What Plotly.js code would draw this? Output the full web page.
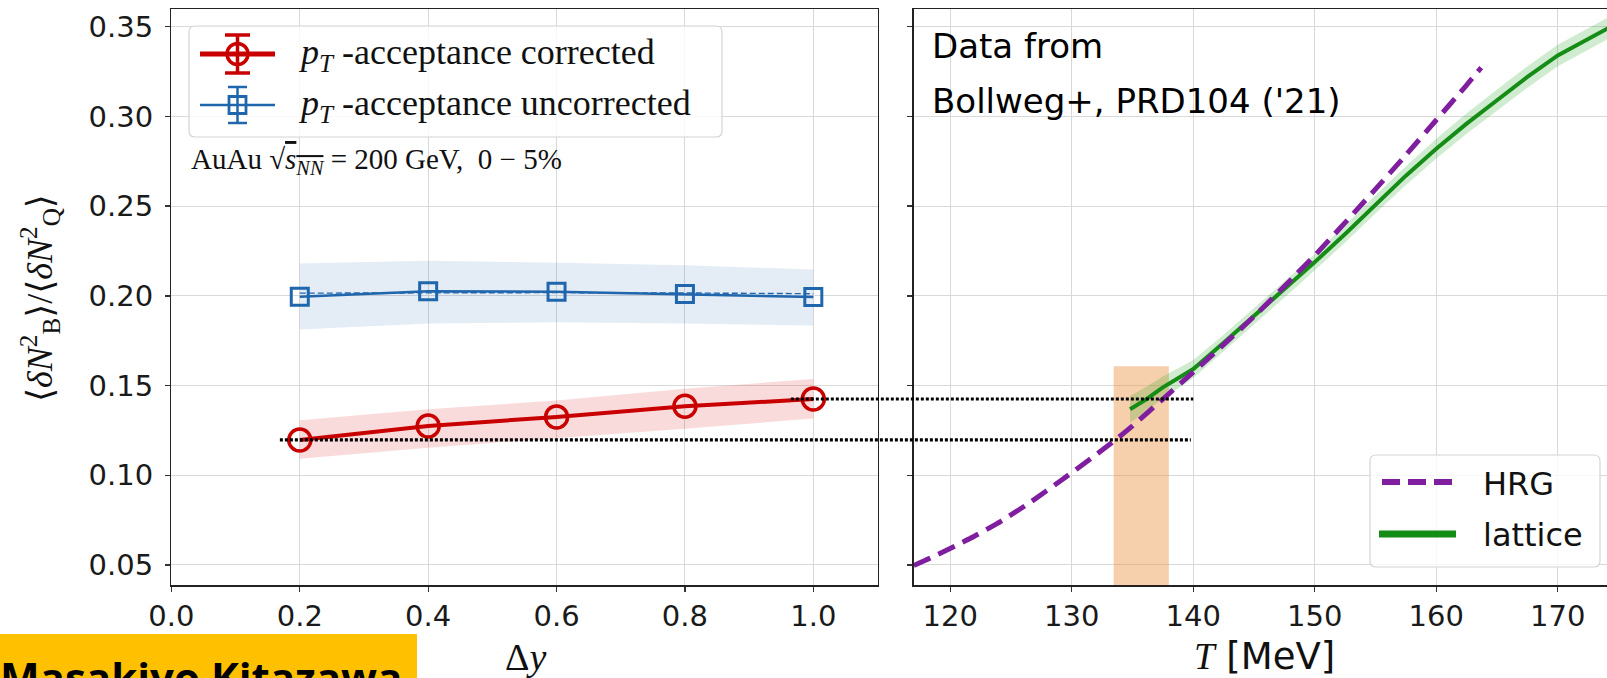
<!DOCTYPE html>
<html><head><meta charset="utf-8">
<script src="https://cdn.plot.ly/plotly-3.0.1.min.js"></script>
<style>html,body{margin:0;padding:0;background:#fff;} #chart{width:1607px;height:678px;}</style>
</head><body><div id="chart"></div>
<script>
// ---------- data ----------
const dyValues = [0.2, 0.4, 0.6, 0.8, 1.0];
const corrected = [0.1197, 0.1275, 0.1325, 0.1385, 0.1425];
const correctedLow = [0.1092, 0.1154, 0.1206, 0.1260, 0.1316];
const correctedHigh = [0.1307, 0.1368, 0.1417, 0.1482, 0.1537];
const uncorrected = [0.1995, 0.2025, 0.2023, 0.2010, 0.1993];
const uncorrectedLow = [0.1813, 0.1846, 0.1853, 0.1846, 0.1835];
const uncorrectedHigh = [0.2180, 0.2195, 0.2185, 0.2170, 0.2147];
const uncorrectedDashed = [0.2015, 0.2018, 0.2018, 0.2016, 0.2012];

const hrgT = [117.0, 118.4, 121.7, 124.2, 126.6, 129.2, 131.7, 133.65, 135.0, 137.5, 140.0, 142.5, 145.0, 148.4, 150.0, 153.8, 155.0, 157.5, 160.0, 162.5, 163.7];
const hrgRatio = [0.0497, 0.0540, 0.0650, 0.0745, 0.0850, 0.0975, 0.1100, 0.1200, 0.1275, 0.1425, 0.1575, 0.1728, 0.1885, 0.2115, 0.2225, 0.2505, 0.2595, 0.2785, 0.2980, 0.3175, 0.3272];

const latT = [134.8, 136.0, 137.5, 139.0, 140.0, 142.5, 145.0, 148.85, 150.0, 152.5, 155.0, 157.5, 160.0, 162.5, 165.0, 167.5, 170.0, 172.0, 174.1];
const latRatio = [0.1368, 0.1418, 0.1490, 0.1550, 0.1592, 0.1738, 0.1886, 0.2116, 0.2188, 0.2345, 0.2510, 0.2670, 0.2820, 0.2960, 0.3090, 0.3220, 0.3340, 0.3415, 0.3490];
const latLow = [0.1293, 0.1348, 0.1430, 0.1495, 0.1542, 0.1693, 0.1841, 0.2071, 0.2143, 0.2297, 0.2460, 0.2618, 0.2765, 0.2903, 0.3030, 0.3160, 0.3280, 0.3355, 0.3430];
const latHigh = [0.1443, 0.1488, 0.1550, 0.1605, 0.1642, 0.1783, 0.1931, 0.2161, 0.2233, 0.2393, 0.2560, 0.2722, 0.2875, 0.3017, 0.3150, 0.3280, 0.3400, 0.3475, 0.3550];

const tcRange = [133.45, 137.99];
const tcBandTop = 0.1607;
const dottedStartDy = [0.169, 0.965];   // left ends of the two dotted guide lines (Δy)
const dottedEndT = [139.8, 140.0];      // right ends (T)

const dyTicks = [0.0, 0.2, 0.4, 0.6, 0.8, 1.0];
const tTicks = [120, 130, 140, 150, 160, 170];
const ratioTicks = [0.05, 0.10, 0.15, 0.20, 0.25, 0.30, 0.35];

// ---------- geometry ----------
const W = 1607, H = 678;
const px = v => v / W;
const py = v => 1 - v / H;
const xDomL = [171.4 / W, 877.5 / W];
const xDomR = [913.8 / W, 1];
const yDom = [93 / H, 1 - 9.3 / H];
const xRangeL = [0, 1.1];
const xRangeR = [117.0, 174.05];
const yRange = [0.03885, 0.3597];
const toPaper = (v, r, d) => d[0] + (v - r[0]) / (r[1] - r[0]) * (d[1] - d[0]);

const RED = '#c80000', BLUE = '#1f66ad', PURPLE = '#7f1f9f', GREEN = '#158c15';
const SERIF = 'Liberation Serif, DejaVu Serif, serif';
const SANS = 'DejaVu Sans, sans-serif';

const rev = a => a.slice().reverse();

const traces = [
  { x: dyValues.concat(rev(dyValues)), y: correctedHigh.concat(rev(correctedLow)), fill: 'toself',
    fillcolor: 'rgba(220,40,40,0.17)', line: { width: 0 }, mode: 'lines', hoverinfo: 'skip', showlegend: false, xaxis: 'x', yaxis: 'y' },
  { x: dyValues.concat(rev(dyValues)), y: uncorrectedHigh.concat(rev(uncorrectedLow)), fill: 'toself',
    fillcolor: 'rgba(31,102,173,0.12)', line: { width: 0 }, mode: 'lines', hoverinfo: 'skip', showlegend: false, xaxis: 'x', yaxis: 'y' },
  { x: dyValues, y: uncorrectedDashed, mode: 'lines', line: { color: BLUE, width: 1.4, dash: '6px,3px' }, showlegend: false, xaxis: 'x', yaxis: 'y' },
  { x: dyValues, y: uncorrected, mode: 'lines+markers', line: { color: BLUE, width: 2.5 },
    marker: { symbol: 'square-open', size: 17, color: BLUE, line: { width: 3, color: BLUE } }, showlegend: false, xaxis: 'x', yaxis: 'y' },
  { x: dyValues, y: corrected, mode: 'lines+markers', line: { color: RED, width: 4 },
    marker: { symbol: 'circle-open', size: 22, color: RED, line: { width: 3.5, color: RED } }, showlegend: false, xaxis: 'x', yaxis: 'y' },
  { x: latT.concat(rev(latT)), y: latHigh.concat(rev(latLow)), fill: 'toself',
    fillcolor: 'rgba(21,160,21,0.2)', line: { width: 0 }, mode: 'lines', hoverinfo: 'skip', showlegend: false, xaxis: 'x2', yaxis: 'y2' },
  { x: latT, y: latRatio, mode: 'lines', line: { color: GREEN, width: 4 }, showlegend: false, xaxis: 'x2', yaxis: 'y2' },
  { x: hrgT, y: hrgRatio, mode: 'lines', line: { color: PURPLE, width: 5, dash: '18px,9px', shape: 'spline', smoothing: 0.5 }, showlegend: false, xaxis: 'x2', yaxis: 'y2' }
];

const axisCommon = {
  showline: true, linecolor: '#222', linewidth: 1.5,
  ticks: 'outside', ticklen: 5, tickwidth: 1.3, tickcolor: '#333',
  showgrid: true, gridcolor: '#d9d9d9', gridwidth: 1, zeroline: false,
  tickfont: { family: SANS, size: 29, color: '#1a1a1a' }
};

const shapes = [];
// Tc band
shapes.push({ type: 'rect', xref: 'x2', yref: 'y2', x0: tcRange[0], x1: tcRange[1], y0: yRange[0], y1: tcBandTop,
  fillcolor: 'rgba(235,150,70,0.45)', line: { width: 0 }, layer: 'between' });
// dotted guide lines across both panels
[0, 1].forEach(i => {
  const yv = i === 0 ? corrected[0] : corrected[corrected.length - 1];
  shapes.push({ type: 'line', xref: 'paper', yref: 'y',
    x0: toPaper(dottedStartDy[i], xRangeL, xDomL), x1: toPaper(dottedEndT[i], xRangeR, xDomR),
    y0: yv, y1: yv, line: { color: '#000', width: 3.2, dash: '3px,2px' } });
});
// legend boxes
function roundRect(x0, y0, x1, y1, r) {
  const X = v => (v).toFixed(5);
  const a = [px(x0), px(x1)], b = [py(y0), py(y1)];
  const rx = r / W, ry = r / H;
  return `M${X(a[0] + rx)},${X(b[0])} L${X(a[1] - rx)},${X(b[0])} Q${X(a[1])},${X(b[0])} ${X(a[1])},${X(b[0] - ry)} ` +
    `L${X(a[1])},${X(b[1] + ry)} Q${X(a[1])},${X(b[1])} ${X(a[1] - rx)},${X(b[1])} L${X(a[0] + rx)},${X(b[1])} ` +
    `Q${X(a[0])},${X(b[1])} ${X(a[0])},${X(b[1] + ry)} L${X(a[0])},${X(b[0] - ry)} Q${X(a[0])},${X(b[0])} ${X(a[0] + rx)},${X(b[0])} Z`;
}
shapes.push({ type: 'path', xref: 'paper', yref: 'paper', path: roundRect(189, 26, 722, 137, 6),
  fillcolor: 'rgba(255,255,255,0.82)', line: { color: '#d4d4d4', width: 1.2 } });
shapes.push({ type: 'path', xref: 'paper', yref: 'paper', path: roundRect(1370, 455, 1600, 567, 6),
  fillcolor: 'rgba(255,255,255,0.82)', line: { color: '#d4d4d4', width: 1.2 } });
const seg = (x0, y0, x1, y1, color, width, dash) => ({ type: 'line', xref: 'paper', yref: 'paper',
  x0: px(x0), y0: py(y0), x1: px(x1), y1: py(y1), line: { color, width, dash: dash || 'solid' } });
// red legend symbol
shapes.push(seg(200, 54, 275, 54, RED, 5));
shapes.push(seg(237.5, 35, 237.5, 73, RED, 3.5));
shapes.push(seg(225, 35, 250, 35, RED, 3.5));
shapes.push(seg(225, 73, 250, 73, RED, 3.5));
shapes.push({ type: 'circle', xref: 'paper', yref: 'paper', x0: px(227), x1: px(248), y0: py(43.5), y1: py(64.5), line: { color: RED, width: 3.5 } });
// blue legend symbol
shapes.push(seg(200, 105, 275, 105, BLUE, 2.5));
shapes.push(seg(237.5, 87, 237.5, 123, BLUE, 2.5));
shapes.push(seg(228, 87, 247, 87, BLUE, 2.5));
shapes.push(seg(228, 123, 247, 123, BLUE, 2.5));
shapes.push({ type: 'rect', xref: 'paper', yref: 'paper', x0: px(229), x1: px(246), y0: py(96.5), y1: py(113.5), line: { color: BLUE, width: 2.8 } });
// right legend symbols
shapes.push(seg(1382, 482, 1453, 482, PURPLE, 6, '18px,8px'));
shapes.push(seg(1379, 534, 1456, 534, GREEN, 7));
// author box
shapes.push({ type: 'rect', xref: 'paper', yref: 'paper', x0: 0, x1: px(417), y0: py(634), y1: 0,
  fillcolor: '#ffc000', line: { width: 0 } });

const ann = (x, y, text, opts) => Object.assign({ xref: 'paper', yref: 'paper', x: px(x), y: py(y), text,
  showarrow: false, xanchor: 'left', yanchor: 'middle', font: { family: SERIF, size: 30, color: '#111' } }, opts || {});

const annotations = [
  ann(296, 55, '<i>p</i><sub><i>T</i></sub> -acceptance corrected', { font: { family: SERIF, size: 36, color: '#111' } }),
  ann(296, 106, '<i>p</i><sub><i>T</i></sub> -acceptance uncorrected', { font: { family: SERIF, size: 36, color: '#111' } }),
  ann(189, 161, 'AuAu √<span style="text-decoration:overline"><i>s</i><sub><i>NN</i></sub></span> = 200 GeV,  0 − 5%', { font: { family: SERIF, size: 29, color: '#111' } }),
  ann(40, 298, '⟨<i>δN</i><sup>2</sup><sub>B</sub>⟩/⟨<i>δN</i><sup>2</sup><sub>Q</sub>⟩', { xanchor: 'center', textangle: -90, font: { family: SERIF, size: 36, color: '#111' } }),
  ann(525, 657, 'Δ<i>y</i>', { xanchor: 'center', font: { family: SERIF, size: 38, color: '#111' } }),
  ann(1264, 656, '<span style="font-family:Liberation Serif"><i>T</i></span> [MeV]', { xanchor: 'center', font: { family: SANS, size: 37, color: '#111' } }),
  ann(930, 46, 'Data from', { font: { family: SANS, size: 34, color: '#000' } }),
  ann(930, 101, "Bollweg+, PRD104 ('21)", { font: { family: SANS, size: 34, color: '#000' } }),
  ann(1481, 484, 'HRG', { font: { family: SANS, size: 32, color: '#111' } }),
  ann(1481, 535, 'lattice', { font: { family: SANS, size: 32, color: '#111' } }),
  ann(-2, 676, '<b>Masakiyo Kitazawa</b>', { font: { family: 'Open Sans, sans-serif', size: 42, color: '#000' } })
];

const layout = {
  width: W, height: H, margin: { l: 0, r: 0, t: 0, b: 0 },
  paper_bgcolor: '#fff', plot_bgcolor: '#fff', showlegend: false,
  xaxis: Object.assign({}, axisCommon, { domain: xDomL, range: xRangeL, anchor: 'y', tickvals: dyTicks, tickformat: '.1f', mirror: true }),
  yaxis: Object.assign({}, axisCommon, { domain: yDom, range: yRange, anchor: 'x', tickvals: ratioTicks, tickformat: '.2f', mirror: true, ticklabelstandoff: 6 }),
  xaxis2: Object.assign({}, axisCommon, { domain: xDomR, range: xRangeR, anchor: 'y2', tickvals: tTicks, mirror: true }),
  yaxis2: Object.assign({}, axisCommon, { domain: yDom, range: yRange, anchor: 'x2', tickvals: ratioTicks, showticklabels: false }),
  shapes, annotations
};

Plotly.newPlot('chart', traces, layout, { staticPlot: true, displayModeBar: false });
</script>
</body></html>
